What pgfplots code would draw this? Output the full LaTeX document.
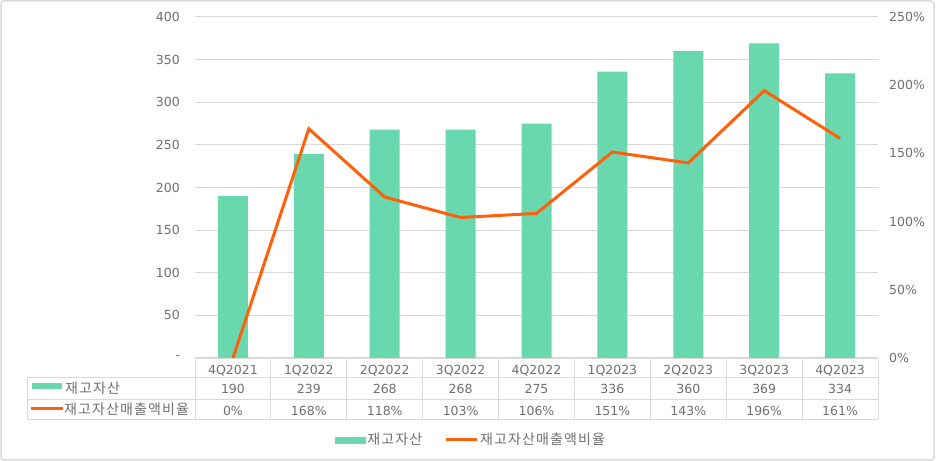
\documentclass[border=0pt]{standalone}
\usepackage{pgfplots}
\pgfplotsset{compat=1.18}
\usepackage{fontspec}
\setmainfont{DejaVu Sans}
\newfontfamily\kr{Noto Sans CJK KR}[LetterSpace=8]
\definecolor{barg}{RGB}{106,216,174}
\definecolor{lineo}{RGB}{255,96,10}
\definecolor{gridc}{RGB}{217,217,217}
\definecolor{txt}{RGB}{112,112,112}

\newcommand{\chartfont}{\fontsize{12.5bp}{15bp}\selectfont}
\newcommand{\krfont}{\kr\fontsize{14bp}{16bp}\selectfont}

\pgfplotsset{
  base/.style={
    at={(195bp,103bp)}, anchor=south west,
    scale only axis, width=683bp, height=341bp,
    xmin=-0.5, xmax=8.5,
    axis line style={draw=none}, tick style={draw=none},
    xtick=\empty, clip=false,
    font=\chartfont,
    every tick label/.append style={text=txt},
  },
  tablerow/.style={draw=none, nodes near coords={\pgfplotspointmeta},
    point meta=explicit symbolic,
    nodes near coords style={anchor=base, text=txt, inner sep=0pt, font=\chartfont}},
}

\begin{document}
\begin{tikzpicture}[x=1bp,y=1bp]
\useasboundingbox (0,0) rectangle (936,461);
\fill[white] (0,0) rectangle (936,461);
\draw[gridc, line width=1.5bp, rounded corners=3bp] (1,1) rectangle (934,460);

\begin{axis}[base,
  ymin=0, ymax=400,
  ytick={0,50,...,400},
  yticklabels={-,50,100,150,200,250,300,350,400},
  yticklabel style={anchor=east, inner sep=0pt, xshift=-15bp},
  ymajorgrids, grid style={gridc, line width=1bp},
]
\addplot[ybar, bar width=30bp, fill=barg, draw=none] coordinates {
  (0,190) (1,239) (2,268) (3,268) (4,275) (5,336) (6,360) (7,369) (8,334)};
% data table below the plot
\addplot[tablerow] coordinates {
  (0,-18.8)[4Q2021] (1,-18.8)[1Q2022] (2,-18.8)[2Q2022] (3,-18.8)[3Q2022]
  (4,-18.8)[4Q2022] (5,-18.8)[1Q2023] (6,-18.8)[2Q2023] (7,-18.8)[3Q2023]
  (8,-18.8)[4Q2023]};
\addplot[tablerow] coordinates {
  (0,-41.6)[190] (1,-41.6)[239] (2,-41.6)[268] (3,-41.6)[268] (4,-41.6)[275]
  (5,-41.6)[336] (6,-41.6)[360] (7,-41.6)[369] (8,-41.6)[334]};
\addplot[tablerow] coordinates {
  (0,-66.9)[0\%] (1,-66.9)[168\%] (2,-66.9)[118\%] (3,-66.9)[103\%] (4,-66.9)[106\%]
  (5,-66.9)[151\%] (6,-66.9)[143\%] (7,-66.9)[196\%] (8,-66.9)[161\%]};
\end{axis}

\begin{axis}[base,
  ymin=0, ymax=250,
  ytick={0,50,...,250},
  yticklabels={0\%,50\%,100\%,150\%,200\%,250\%},
  yticklabel pos=right,
  yticklabel style={anchor=west, inner sep=0pt, xshift=11bp},
  legend columns=2,
  legend style={at={(0.404,-0.240)}, anchor=center, draw=none, fill=none,
    text=txt, font=\krfont,
    /tikz/every even column/.append style={column sep=20bp}},
]
\addlegendimage{legend image code/.code={\fill[barg] (0bp,-3bp) rectangle (30bp,3bp);}}
\addlegendentry{재고자산}
\addplot[lineo, line width=3bp,
  legend image code/.code={\draw[lineo, line width=3bp] (0bp,0bp) -- (31bp,0bp);}]
  coordinates {(0,0) (1,168) (2,118) (3,103) (4,106) (5,151) (6,143) (7,196) (8,161)};
\addlegendentry{재고자산매출액비율}
\end{axis}

% table grid
\begin{scope}[gridc, line width=1bp]
\draw (195,102) -- (878,102);
\draw (27,83.3) -- (878,83.3);
\draw (27,61.7) -- (878,61.7);
\draw (27,41.7) -- (878,41.7);
\draw (27,41.7) -- (27,83.3);
\foreach \k in {0,...,9} {\draw ({195+75.89*\k},41.7) -- ({195+75.89*\k},102);}
\end{scope}
\fill[barg] (32,72) rectangle (62,78);
\node[anchor=west, text=txt, inner sep=0pt, font=\krfont] at (65,73) {재고자산};
\draw[lineo, line width=3bp] (31,52.7) -- (63,52.7);
\node[anchor=west, text=txt, inner sep=0pt, font=\krfont] at (64,52.2) {재고자산매출액비율};
\end{tikzpicture}
\end{document}
